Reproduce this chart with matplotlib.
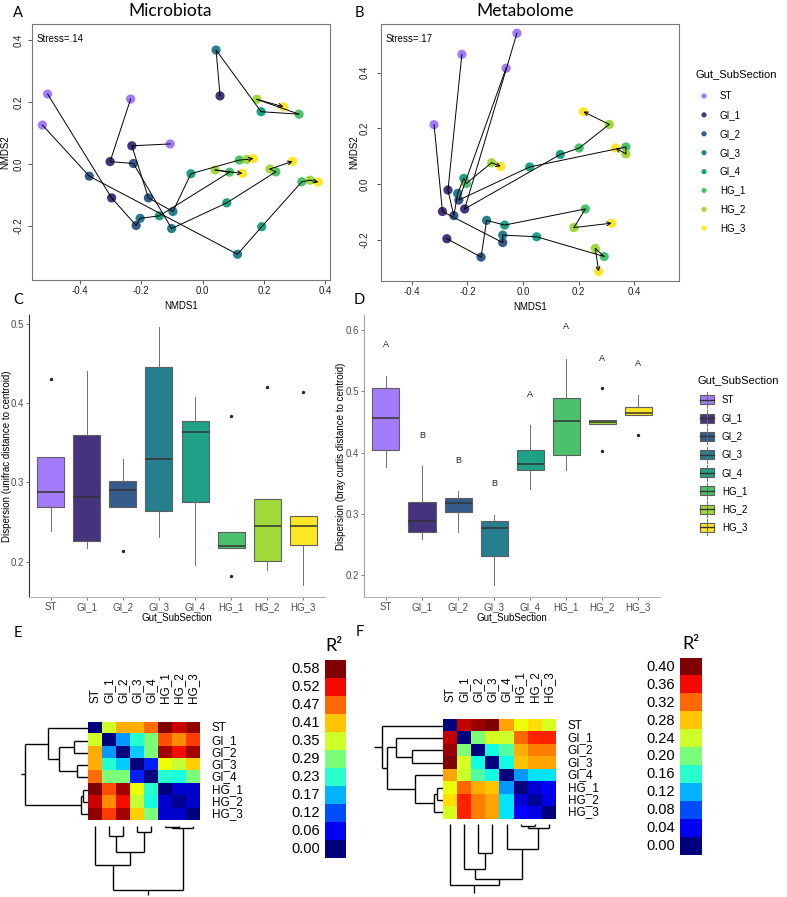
import numpy as np
import matplotlib
matplotlib.use("Agg")
import matplotlib.pyplot as plt
from matplotlib.patches import Rectangle
from matplotlib.colors import Normalize

W, H = 787, 897
SANS = ["Liberation Sans", "DejaVu Sans"]
HEAD = ["Lato", "DejaVu Sans"]
plt.rcParams["font.family"] = SANS

# ------------------------------------------------------------
# data
# ------------------------------------------------------------
SECTIONS = ["ST", "GI_1", "GI_2", "GI_3", "GI_4", "HG_1", "HG_2", "HG_3"]
COLORS = ["#A47BFA", "#46337E", "#365C8D", "#277F8E",
          "#1FA187", "#4AC16D", "#9FDA3A", "#FDE725"]

# NMDS microbiota: one row per sample, in path order per animal
MICRO_ANIMAL = [1, 1, 1, 1, 1, 1,
                2, 2, 2, 2, 2, 2, 2, 2,
                3, 3, 3, 3, 3, 3, 3, 3,
                4, 4, 4, 4, 4, 4, 4,
                5, 5, 5, 5, 5, 5, 5, 5]
MICRO_SEC = ["GI_1", "GI_3", "GI_4", "HG_1", "HG_2", "HG_3",
             "ST", "GI_1", "GI_2", "GI_3", "GI_4", "HG_1", "HG_2", "HG_3",
             "ST", "GI_1", "GI_2", "GI_3", "GI_4", "HG_1", "HG_2", "HG_3",
             "ST", "GI_2", "GI_3", "GI_4", "HG_1", "HG_2", "HG_3",
             "ST", "GI_1", "GI_2", "GI_3", "GI_4", "HG_1", "HG_2", "HG_3"]
MICRO_X = [0.057, 0.044, 0.191, 0.315, 0.177, 0.264,
           -0.106, -0.231, -0.177, -0.097, -0.038, 0.120, 0.144, 0.166,
           -0.235, -0.302, -0.226, -0.101, 0.079, 0.239, 0.220, 0.294,
           -0.523, -0.370, 0.114, 0.193, 0.324, 0.351, 0.378,
           -0.506, -0.297, -0.217, -0.204, -0.141, 0.088, 0.041, 0.130]
MICRO_Y = [0.220, 0.368, 0.169, 0.161, 0.209, 0.185,
           0.065, 0.059, -0.109, -0.153, -0.031, 0.013, 0.015, 0.018,
           0.210, 0.008, 0.002, -0.208, -0.125, -0.025, -0.016, 0.009,
           0.126, -0.039, -0.291, -0.202, -0.057, -0.052, -0.058,
           0.226, -0.109, -0.198, -0.175, -0.167, -0.026, -0.019, -0.030]

# NMDS metabolome
METAB_ANIMAL = [1, 1, 1, 1, 1, 1, 1, 1,
                2, 2, 2, 2, 2, 2,
                3, 3, 3, 3, 3, 3,
                4, 4, 4, 4, 4, 4, 4,
                5, 5, 5, 5, 5, 5, 5, 5]
METAB_SEC = ["ST", "GI_1", "GI_2", "GI_3", "GI_4", "HG_1", "HG_2", "HG_3",
             "ST", "GI_1", "GI_4", "HG_1", "HG_2", "HG_3",
             "ST", "GI_2", "GI_4", "HG_1", "HG_2", "HG_3",
             "GI_1", "GI_2", "GI_3", "GI_4", "HG_1", "HG_2", "HG_3",
             "ST", "GI_1", "GI_2", "GI_3", "GI_4", "HG_1", "HG_2", "HG_3"]
METAB_X = [-0.220, -0.270, -0.249, -0.235, -0.213, -0.204, -0.113, -0.080,
           -0.022, -0.210, 0.134, 0.202, 0.310, 0.217,
           -0.061, -0.231, 0.024, 0.370, 0.370, 0.333,
           -0.274, -0.151, -0.131, -0.066, 0.224, 0.183, 0.319,
           -0.320, -0.290, -0.073, -0.073, 0.049, 0.292, 0.260, 0.272]
METAB_Y = [0.466, -0.022, -0.114, -0.034, 0.020, 0.002, 0.076, 0.063,
           0.542, -0.090, 0.106, 0.129, 0.214, 0.260,
           0.416, -0.058, 0.061, 0.133, 0.108, 0.129,
           -0.197, -0.263, -0.131, -0.148, -0.090, -0.157, -0.141,
           0.213, -0.099, -0.211, -0.184, -0.190, -0.261, -0.232, -0.315]

# dispersion boxplots (C: unifrac, D: bray curtis)
C_Q1 = [0.269, 0.226, 0.269, 0.264, 0.275, 0.217, 0.201, 0.221]
C_MED = [0.288, 0.281, 0.290, 0.330, 0.364, 0.220, 0.245, 0.245]
C_Q3 = [0.332, 0.360, 0.302, 0.445, 0.378, 0.238, 0.279, 0.257]
C_WLO = [0.239, 0.217, 0.269, 0.231, 0.196, 0.217, 0.190, 0.171]
C_WHI = [0.332, 0.440, 0.330, 0.496, 0.407, 0.238, 0.279, 0.257]
C_OUT = [[0.430], [], [0.214], [], [], [0.384, 0.182], [0.420], [0.414]]

D_Q1 = [0.404, 0.270, 0.303, 0.231, 0.371, 0.396, 0.447, 0.461]
D_MED = [0.456, 0.288, 0.318, 0.277, 0.382, 0.452, 0.450, 0.464]
D_Q3 = [0.505, 0.320, 0.326, 0.288, 0.404, 0.489, 0.453, 0.475]
D_WLO = [0.377, 0.260, 0.271, 0.184, 0.341, 0.372, 0.447, 0.461]
D_WHI = [0.525, 0.379, 0.337, 0.298, 0.445, 0.553, 0.453, 0.494]
D_OUT = [[], [], [], [], [], [], [0.505, 0.403], [0.428]]
D_LETTERS = ["A", "B", "B", "B", "A", "A", "A", "A"]
D_LETTER_Y = [0.576, 0.428, 0.387, 0.349, 0.494, 0.605, 0.554, 0.545]

# pairwise R2 matrices
MICRO_R2 = np.array([
    [0.00, 0.35, 0.42, 0.42, 0.46, 0.58, 0.54, 0.57],
    [0.35, 0.00, 0.16, 0.23, 0.29, 0.48, 0.44, 0.49],
    [0.42, 0.16, 0.00, 0.19, 0.29, 0.56, 0.52, 0.56],
    [0.42, 0.23, 0.19, 0.00, 0.09, 0.37, 0.34, 0.40],
    [0.46, 0.29, 0.29, 0.09, 0.00, 0.23, 0.22, 0.29],
    [0.58, 0.48, 0.56, 0.37, 0.23, 0.00, 0.04, 0.04],
    [0.54, 0.44, 0.52, 0.34, 0.22, 0.04, 0.01, 0.04],
    [0.57, 0.49, 0.56, 0.40, 0.29, 0.04, 0.04, 0.00]])
METAB_R2 = np.array([
    [0.00, 0.375, 0.39, 0.40, 0.295, 0.255, 0.27, 0.245],
    [0.375, 0.00, 0.20, 0.245, 0.24, 0.32, 0.35, 0.35],
    [0.39, 0.20, 0.00, 0.15, 0.18, 0.29, 0.31, 0.31],
    [0.40, 0.245, 0.15, 0.00, 0.15, 0.28, 0.295, 0.295],
    [0.295, 0.24, 0.18, 0.15, 0.00, 0.11, 0.14, 0.14],
    [0.255, 0.32, 0.29, 0.28, 0.11, 0.00, 0.03, 0.045],
    [0.27, 0.35, 0.31, 0.295, 0.14, 0.03, 0.01, 0.035],
    [0.245, 0.35, 0.31, 0.295, 0.14, 0.045, 0.035, 0.00]])

# hierarchical clustering merges: (child a, child b, height)
MICRO_TREE = [(5, 6, 17), (8, 7, 22), (3, 4, 33), (1, 2, 43),
              (11, 10, 87), (0, 12, 122), (13, 9, 190)]
METAB_TREE = [(5, 6, 20), (8, 7, 27), (4, 9, 85), (2, 3, 95),
              (1, 11, 142), (12, 10, 170), (0, 13, 185)]

MICRO_CBAR = ["0.58", "0.52", "0.47", "0.41", "0.35", "0.29",
              "0.23", "0.17", "0.12", "0.06", "0.00"]
METAB_CBAR = ["0.40", "0.36", "0.32", "0.28", "0.24", "0.20",
              "0.16", "0.12", "0.08", "0.04", "0.00"]

# ------------------------------------------------------------
# helpers
# ------------------------------------------------------------
fig = plt.figure(figsize=(W / 100, H / 100), dpi=100)


def px_axes(x0, y0, x1, y1):
    return fig.add_axes([x0 / W, 1 - y1 / H, (x1 - x0) / W, (y1 - y0) / H])


ov = px_axes(0, 0, W, H)
ov.set_xlim(0, W)
ov.set_ylim(H, 0)
ov.axis("off")


def fmt(v, nd=1):
    s = f"{v:.{nd}f}"
    return "0.0" if s == "-0.0" else s


def nmds_panel(box, animal, sec, xs, ys, xlim, ylim, yticks, stress, ypad, ylab_x):
    ax = px_axes(*box)
    animal = np.asarray(animal)
    sec = np.asarray(sec)
    xs = np.asarray(xs)
    ys = np.asarray(ys)
    for i, s in enumerate(SECTIONS):
        m = sec == s
        ax.scatter(xs[m], ys[m], s=44, color=COLORS[i], edgecolors="none", zorder=2)
    for a in np.unique(animal):
        m = animal == a
        px, py = xs[m], ys[m]
        ax.plot(px[:-1], py[:-1], color="black", lw=0.7, zorder=3)
        ax.annotate("", xy=(px[-1], py[-1]), xytext=(px[-2], py[-2]),
                    arrowprops=dict(arrowstyle="->", color="black", lw=0.7,
                                    shrinkA=0, shrinkB=0, mutation_scale=7),
                    zorder=3)
    ax.set_xlim(*xlim)
    ax.set_ylim(*ylim)
    xt = [-0.4, -0.2, 0.0, 0.2, 0.4]
    ax.set_xticks(xt)
    ax.set_xticklabels([fmt(v) for v in xt])
    ax.set_yticks(yticks)
    ax.set_yticklabels([fmt(v) for v in yticks], rotation=90, va="center")
    ax.tick_params(axis="x", length=3, width=0.7, pad=1, labelsize=7,
                   color="#555555", labelcolor="#222222")
    ax.tick_params(axis="y", length=3, width=0.7, pad=ypad, labelsize=7,
                   color="#555555", labelcolor="#222222")
    for sp in ax.spines.values():
        sp.set_color("#777777")
        sp.set_linewidth(0.8)
    ax.set_xlabel("NMDS1", fontsize=7, labelpad=4)
    ax.set_ylabel("NMDS2", fontsize=7)
    ax.yaxis.set_label_coords((ylab_x - box[0]) / (box[2] - box[0]), 0.5)
    ax.text(0.015, 0.94, stress, transform=ax.transAxes, fontsize=7,
            ha="left", va="center")
    return ax


def box_panel(box, q1, med, q3, wlo, whi, out, ylim, yticks, ylabel, left_col, ylab_x):
    ax = px_axes(*box)
    stats = [dict(q1=q1[i], med=med[i], q3=q3[i], whislo=wlo[i], whishi=whi[i],
                  fliers=out[i]) for i in range(len(SECTIONS))]
    bp = ax.bxp(stats, positions=range(1, 9), widths=0.75, patch_artist=True,
                showcaps=False,
                boxprops=dict(edgecolor="#5E5E5E", linewidth=0.8),
                medianprops=dict(color="#333333", linewidth=1.1),
                whiskerprops=dict(color="#6E6E6E", linewidth=0.7),
                flierprops=dict(marker="o", markersize=1.4, markerfacecolor="#222222",
                                markeredgecolor="#222222"))
    for patch, c in zip(bp["boxes"], COLORS):
        patch.set_facecolor(c)
    ax.set_xlim(0.4, 8.6)
    ax.set_ylim(*ylim)
    ax.set_xticks(range(1, 9))
    ax.set_xticklabels(SECTIONS)
    ax.set_yticks(yticks)
    ax.set_yticklabels([fmt(v) for v in yticks])
    ax.tick_params(length=2, width=0.6, pad=1.5, labelsize=7, color="#666666",
                   labelcolor="#4D4D4D")
    ax.spines["top"].set_visible(False)
    ax.spines["right"].set_visible(False)
    ax.spines["left"].set_color(left_col)
    ax.spines["bottom"].set_color("#B5B5B5")
    ax.spines["left"].set_linewidth(0.8)
    ax.spines["bottom"].set_linewidth(0.8)
    ax.set_xlabel("Gut_SubSection", fontsize=7, labelpad=0.5)
    ax.set_ylabel(ylabel, fontsize=7)
    ax.yaxis.set_label_coords((ylab_x - box[0]) / (box[2] - box[0]), 0.5)
    return ax


def draw_tree(ax, merges, n, base, stub, horizontal):
    pos = [float(i) for i in range(n)]
    hgt = [float(base)] * n

    def seg(p0, h0, p1, h1):
        if horizontal:
            ax.plot([-h0, -h1], [p0, p1], color="black", lw=1.0, solid_capstyle="butt")
        else:
            ax.plot([p0, p1], [-h0, -h1], color="black", lw=1.0, solid_capstyle="butt")

    for a, b, h in merges:
        seg(pos[a], hgt[a], pos[a], h)
        seg(pos[b], hgt[b], pos[b], h)
        seg(pos[a], h, pos[b], h)
        pos.append((pos[a] + pos[b]) / 2)
        hgt.append(float(h))
    seg(pos[-1], hgt[-1], pos[-1], hgt[-1] + stub)


def heat_panel(mat, vmax, hbox, rowx0, rowscale, colscale, tree, colbase,
               stub, rowlab_x, collab_y, cbox, cbar_labels, cbar_lab_x, r2_x):
    x0, y0, x1, y1 = hbox
    n = len(SECTIONS)
    ax = px_axes(*hbox)
    ax.imshow(mat, cmap="jet", norm=Normalize(0, vmax), aspect="auto",
              interpolation="nearest")
    ax.axis("off")
    cw = (x1 - x0) / n
    ch = (y1 - y0) / n
    for i, s in enumerate(SECTIONS):
        ov.text(rowlab_x, y0 + (i + 0.5) * ch, s, ha="left", va="center", fontsize=8.5)
        ov.text(x0 + (i + 0.5) * cw, collab_y, s, ha="center", va="bottom",
                rotation=90, fontsize=8.5)
    # row dendrogram
    rax = px_axes(rowx0, y0, x0, y1)
    draw_tree(rax, tree, n, 0, stub, True)
    rax.set_xlim(-(x0 - rowx0) * rowscale, 0)
    rax.set_ylim(n - 0.5, -0.5)
    rax.axis("off")
    # column dendrogram
    cax = px_axes(x0, y1, x1, H)
    draw_tree(cax, tree, n, colbase, stub, False)
    cax.set_xlim(-0.5, n - 0.5)
    cax.set_ylim(-(H - y1) * colscale, 0)
    cax.axis("off")
    # colour key
    k = len(cbar_labels)
    kax = px_axes(*cbox)
    kax.imshow(np.arange(k)[::-1].reshape(-1, 1), cmap=plt.get_cmap("jet", k),
               aspect="auto", interpolation="nearest")
    kax.axis("off")
    kh = (cbox[3] - cbox[1]) / k
    for i, lab in enumerate(cbar_labels):
        ov.text(cbar_lab_x, cbox[1] + (i + 0.5) * kh, lab, ha="right", va="center",
                fontsize=10.5)
    ov.text(r2_x, cbox[1] - 14, "R²", ha="center", va="center", fontsize=13,
            family=HEAD)


# ------------------------------------------------------------
# panels
# ------------------------------------------------------------
nmds_panel((32, 24, 330, 280), MICRO_ANIMAL, MICRO_SEC, MICRO_X, MICRO_Y,
           (-0.557, 0.416), (-0.374, 0.452), [-0.2, 0.0, 0.2, 0.4],
           "Stress=.14", 3, 10)
nmds_panel((380.7, 24, 679, 281), METAB_ANIMAL, METAB_SEC, METAB_X, METAB_Y,
           (-0.512, 0.561), (-0.349, 0.575), [-0.2, 0.0, 0.2, 0.4],
           "Stress=.17", 5, 359)

box_panel((29, 315, 325, 597), C_Q1, C_MED, C_Q3, C_WLO, C_WHI, C_OUT,
          (0.1555, 0.511), [0.2, 0.3, 0.4, 0.5],
          "Dispersion (unifrac distance to centroid)", "#333333", 12)
dax = box_panel((364.3, 315, 660, 597), D_Q1, D_MED, D_Q3, D_WLO, D_WHI, D_OUT,
                (0.165, 0.624), [0.2, 0.3, 0.4, 0.5, 0.6],
                "Dispersion (bray curtis distance to centroid)", "#A0A0A0", 346)
for i, (lab, yv) in enumerate(zip(D_LETTERS, D_LETTER_Y)):
    dax.text(i + 1, yv, lab, ha="center", va="center", fontsize=6.5, color="#222222")

heat_panel(MICRO_R2, 0.58, (88.3, 722.3, 200, 820.3), 18, 3.0, 3.0 / 1.1,
           MICRO_TREE, 14.5, 13, 211.7, 703, (325, 660, 346, 857.7),
           MICRO_CBAR, 320, 334)
heat_panel(METAB_R2, 0.40, (443.3, 719.3, 555.7, 818.7), 370, 3.0, 3.0 / 1.07,
           METAB_TREE, 14, 22, 567.7, 701.7, (680, 657.7, 701.7, 855.3),
           METAB_CBAR, 675, 690.7)

# titles and panel letters
ov.text(170, 11, "Microbiota", ha="center", va="center", fontsize=12.5, family=HEAD)
ov.text(525, 11, "Metabolome", ha="center", va="center", fontsize=12.5, family=HEAD)
for lab, x, y in [("A", 18, 13), ("B", 359, 13), ("C", 18, 300), ("D", 359, 300),
                  ("E", 18, 633), ("F", 360, 632)]:
    ov.text(x, y, lab, ha="center", va="center", fontsize=10.5, family=HEAD)

# legend for the NMDS panels
ov.text(695, 74, "Gut_SubSection", ha="left", va="center", fontsize=8)
for i, (s, c) in enumerate(zip(SECTIONS, COLORS)):
    yy = 96 + i * 18.9
    ov.scatter([704], [yy], s=14, color=c, edgecolors="none")
    ov.text(720, yy, s, ha="left", va="center", fontsize=7)

# legend for the boxplot panels
ov.text(698, 380, "Gut_SubSection", ha="left", va="center", fontsize=8)
for i, (s, c) in enumerate(zip(SECTIONS, COLORS)):
    yy = 400 + i * 18.2
    ov.plot([707, 707], [yy - 8, yy + 8], color="#6E6E6E", lw=0.7)
    ov.add_patch(Rectangle((700, yy - 4.5), 14, 9, facecolor=c,
                           edgecolor="#5E5E5E", lw=0.8))
    ov.plot([700, 714], [yy, yy], color="#333333", lw=1.0)
    ov.text(722, yy, s, ha="left", va="center", fontsize=7)

fig.savefig("out.png", dpi=100)
